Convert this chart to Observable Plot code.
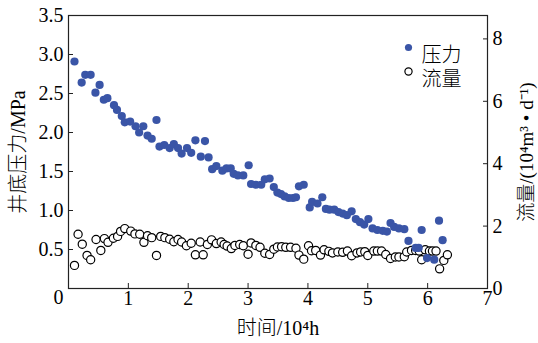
<!DOCTYPE html>
<html>
<head>
<meta charset="utf-8">
<script src="https://cdn.jsdelivr.net/npm/d3@7"></script>
<script src="https://cdn.jsdelivr.net/npm/@observablehq/plot@0.6"></script>
<style>
  body { margin: 0; background: #fff; }
</style>
</head>
<body>
<div id="chart"></div>
<script>
// Bottom-hole pressure (MPa) against production time (10^4 h)
const pressureTime = [0.10, 0.22, 0.28, 0.37, 0.45, 0.52, 0.59, 0.65, 0.76, 0.81, 0.89, 0.94, 1.03, 1.12, 1.18, 1.25, 1.32, 1.39, 1.47, 1.52,
  1.60, 1.69, 1.76, 1.83, 1.89, 1.98, 2.05, 2.12, 2.21, 2.28, 2.34, 2.40, 2.47, 2.57, 2.64, 2.71, 2.76, 2.83, 2.92, 3.01,
  3.05, 3.13, 3.22, 3.28, 3.36, 3.43, 3.49, 3.55, 3.61, 3.68, 3.75, 3.80, 3.85, 3.93, 4.03, 4.07, 4.16, 4.24, 4.30, 4.36,
  4.44, 4.51, 4.58, 4.65, 4.73, 4.80, 4.87, 4.94, 5.01, 5.08, 5.16, 5.25, 5.32, 5.38, 5.44, 5.52, 5.61, 5.68, 5.80, 5.85,
  5.90, 5.99, 6.11, 6.19, 6.25];
const pressureValue = [2.91, 2.64, 2.74, 2.74, 2.51, 2.61, 2.42, 2.44, 2.35, 2.29, 2.21, 2.13, 2.14, 2.08, 2.00, 2.08, 1.96, 1.92, 2.16, 1.82,
  1.84, 1.80, 1.85, 1.80, 1.73, 1.80, 1.74, 1.90, 1.69, 1.89, 1.68, 1.53, 1.57, 1.51, 1.54, 1.54, 1.47, 1.45, 1.45, 1.58,
  1.34, 1.33, 1.33, 1.40, 1.41, 1.30, 1.23, 1.21, 1.18, 1.16, 1.16, 1.17, 1.31, 1.33, 1.04, 1.11, 1.09, 1.17, 1.02, 1.01,
  1.01, 0.98, 0.96, 0.94, 0.99, 0.89, 0.85, 0.82, 0.89, 0.77, 0.75, 0.74, 0.73, 0.84, 0.79, 0.77, 0.76, 0.61, 0.52, 0.52,
  0.75, 0.39, 0.37, 0.87, 0.62];

// Gas flow rate (10^4 m^3/d) against production time (10^4 h)
const flowTime = [0.10, 0.16, 0.23, 0.31, 0.37, 0.46, 0.54, 0.60, 0.66, 0.75, 0.82, 0.87, 0.94, 1.04, 1.11, 1.19, 1.26, 1.32, 1.39, 1.47,
  1.54, 1.61, 1.69, 1.76, 1.83, 1.89, 1.97, 2.05, 2.12, 2.20, 2.25, 2.32, 2.39, 2.47, 2.55, 2.60, 2.65, 2.72, 2.78, 2.86,
  2.92, 3.00, 3.05, 3.13, 3.20, 3.28, 3.36, 3.43, 3.49, 3.56, 3.63, 3.71, 3.80, 3.85, 3.93, 4.01, 4.06, 4.13, 4.21, 4.27,
  4.35, 4.41, 4.50, 4.58, 4.66, 4.73, 4.82, 4.88, 4.95, 5.00, 5.10, 5.16, 5.23, 5.30, 5.38, 5.46, 5.52, 5.61, 5.65, 5.73,
  5.80, 5.86, 5.90, 5.96, 6.03, 6.08, 6.14, 6.20, 6.27, 6.33];
const flowValue = [0.74, 1.74, 1.42, 1.06, 0.92, 1.57, 1.22, 1.60, 1.48, 1.61, 1.67, 1.83, 1.92, 1.84, 1.75, 1.74, 1.48, 1.69, 1.63, 1.06,
  1.67, 1.63, 1.58, 1.50, 1.57, 1.49, 1.37, 1.45, 1.08, 1.49, 1.08, 1.41, 1.56, 1.44, 1.49, 1.41, 1.36, 1.28, 1.38, 1.41,
  1.37, 1.10, 1.46, 1.38, 1.32, 1.13, 1.09, 1.26, 1.33, 1.34, 1.32, 1.32, 1.29, 1.07, 0.94, 1.37, 1.21, 1.22, 1.07, 1.24,
  1.19, 1.14, 1.17, 1.16, 1.20, 1.05, 1.14, 1.17, 1.18, 1.06, 1.20, 1.20, 1.20, 1.09, 0.96, 1.01, 1.01, 1.02, 1.17, 1.22,
  1.22, 1.20, 0.92, 1.24, 1.20, 1.20, 1.20, 0.63, 0.90, 1.08];

const xTicks = [1, 2, 3, 4, 5, 6, 7];
const pressureTicks = [0.5, 1.0, 1.5, 2.0, 2.5, 3.0, 3.5];
const flowTicks = [0, 2, 4, 6, 8];

// The right axis shares the y scale: 1 unit of flow sits at 0.4 MPa
const flowToPressure = 0.4;

const pressure = pressureTime.map((t, i) => ({t, v: pressureValue[i]}));
const flow = flowTime.map((t, i) => ({t, v: flowValue[i]}));

const blue = "#3a55a7";
const font = `"Liberation Serif", "Times New Roman", "Noto Sans CJK SC", serif`;

// legend entries, each pinned to the top-right corner of the frame
const legendDot = (dy, style) => Plot.dot([{}], {frameAnchor: "top-right", dx: -79, dy, r: 3.6, ...style});
const legendText = (label, dy) => Plot.text([label], {frameAnchor: "top-right", textAnchor: "start", dx: -66, dy, text: d => d, fontSize: 20, fontWeight: 300});

const chart = Plot.plot({
  width: 538,
  height: 343,
  marginLeft: 68,
  marginRight: 51,
  marginTop: 15,
  marginBottom: 55,
  style: {fontFamily: font, fontSize: "20px", color: "#000", background: "#fff", overflow: "visible"},
  x: {domain: [0, 7]},
  y: {domain: [0, 3.5]},
  marks: [
    Plot.frame({stroke: "#222", strokeWidth: 1.2}),
    Plot.axisX(xTicks, {tickSize: -5, tickPadding: 7, tickFormat: d => d, label: null, stroke: "#222"}),
    Plot.text([0], {x: d => d, text: d => d, frameAnchor: "bottom", dy: 15, dx: -10}),
    Plot.axisY(pressureTicks, {anchor: "left", tickSize: -5, tickPadding: 10, tickFormat: d3.format(".1f"), label: null, stroke: "#222"}),
    Plot.axisY(flowTicks.map(f => f * flowToPressure), {
      anchor: "right", tickSize: -5, tickPadding: 10,
      tickFormat: d => Math.round(d / flowToPressure), label: null, stroke: "#222"
    }),
    Plot.dot(flow, {x: "t", y: d => d.v * flowToPressure, r: 4.1, stroke: "#000", fill: "#fff", strokeWidth: 1.2}),
    Plot.dot(pressure, {x: "t", y: "v", r: 4.1, fill: blue}),
    // legend
    legendDot(32, {fill: blue}),
    legendDot(56, {stroke: "#000", fill: "#fff", strokeWidth: 1.2}),
    legendText("压力", 32),
    legendText("流量", 56),
    // axis titles
    Plot.text(["时间/10⁴h"], {frameAnchor: "bottom", dy: 46, text: d => d, fontSize: 20, fontWeight: 300}),
    Plot.text(["井底压力/MPa"], {frameAnchor: "left", textAnchor: "middle", dx: -50, rotate: -90, text: d => d, fontSize: 20, fontWeight: 300}),
    Plot.text(["流量/(10⁴m³ • d⁻¹)"], {frameAnchor: "right", textAnchor: "middle", dx: 39, rotate: -90, text: d => d, fontSize: 19, fontWeight: 300})
  ]
});

document.getElementById("chart").append(chart);
</script>
</body>
</html>
